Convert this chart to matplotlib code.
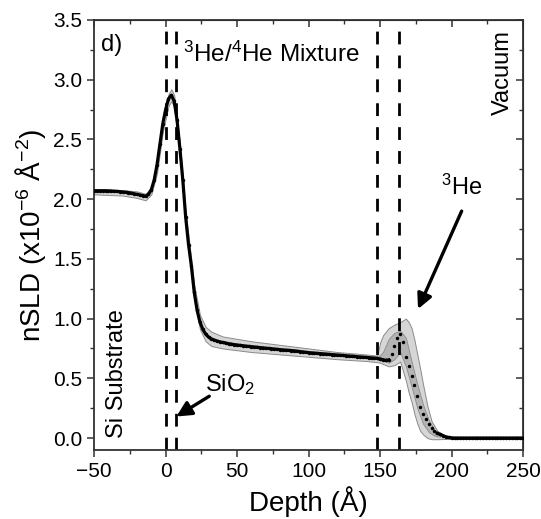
import matplotlib
matplotlib.use("Agg")
import matplotlib.pyplot as plt
import numpy as np

plt.rcParams['font.family'] = ['Liberation Sans', 'DejaVu Sans']
plt.rcParams['mathtext.fontset'] = 'custom'
plt.rcParams['mathtext.rm'] = 'Liberation Sans'
plt.rcParams['mathtext.it'] = 'Liberation Sans:italic'

# ---- data ----
depth = [-50, -48, -46, -44, -42, -40, -38, -36, -34, -32, -30, -28, -26, -24, -22, -20,
         -18, -16, -14, -12, -10, -8, -6, -4, -2, 0, 2, 4, 6, 8, 10, 12, 14, 16, 18, 20,
         22, 24, 26, 28, 30, 32, 34, 36, 38, 40, 42, 44, 46, 48, 50, 52, 54, 56, 58, 60,
         62, 64, 66, 68, 70, 72, 74, 76, 78, 80, 82, 84, 86, 88, 90, 92, 94, 96, 98, 100,
         102, 104, 106, 108, 110, 112, 114, 116, 118, 120, 122, 124, 126, 128, 130, 132,
         134, 136, 138, 140, 142, 144, 146, 148, 150, 152, 154, 156, 158, 160, 162, 164,
         166, 168, 170, 172, 174, 176, 178, 180, 182, 184, 186, 188, 190, 192, 194, 196,
         198, 200, 202, 204, 206, 208, 210, 212, 214, 216, 218, 220, 222, 224, 226, 228,
         230, 232, 234, 236, 238, 240, 242, 244, 246, 248, 250]
nsld = [2.070, 2.070, 2.070, 2.070, 2.070, 2.069, 2.068, 2.066, 2.065, 2.063, 2.060, 2.058,
        2.055, 2.050, 2.045, 2.040, 2.035, 2.030, 2.025, 2.040, 2.080, 2.160, 2.290, 2.460,
        2.630, 2.750, 2.840, 2.870, 2.820, 2.660, 2.420, 2.160, 1.850, 1.620, 1.440, 1.220,
        1.070, 0.970, 0.910, 0.870, 0.845, 0.830, 0.820, 0.812, 0.805, 0.800, 0.795, 0.790,
        0.786, 0.782, 0.779, 0.776, 0.773, 0.770, 0.767, 0.765, 0.762, 0.760, 0.757, 0.755,
        0.752, 0.750, 0.748, 0.745, 0.743, 0.740, 0.738, 0.736, 0.734, 0.732, 0.730, 0.727,
        0.724, 0.721, 0.718, 0.715, 0.713, 0.711, 0.709, 0.707, 0.705, 0.703, 0.701, 0.699,
        0.697, 0.695, 0.693, 0.691, 0.689, 0.687, 0.685, 0.683, 0.681, 0.679, 0.677, 0.675,
        0.673, 0.671, 0.669, 0.667, 0.662, 0.656, 0.650, 0.655, 0.700, 0.770, 0.840, 0.870,
        0.800, 0.680, 0.600, 0.520, 0.440, 0.350, 0.260, 0.200, 0.160, 0.120, 0.085, 0.060,
        0.040, 0.030, 0.020, 0.010, 0.005, 0.002, 0.0, 0.0, 0.0, 0.0, 0.0, 0.0, 0.0, 0.0,
        0.0, 0.0, 0.0, 0.0, 0.0, 0.0, 0.0, 0.0, 0.0, 0.0, 0.0, 0.0, 0.0, 0.0, 0.0, 0.0, 0.0]

band_x = [-50, -30, -20, -14, -10, -6, -2, 2, 4, 6, 10, 14, 20, 24, 28, 32, 40, 60, 80,
          100, 120, 140, 148, 150, 152, 156, 160, 164, 168, 170, 172, 174, 176, 178, 180,
          183, 186, 190, 195, 200, 250]
band_hi = [2.085, 2.075, 2.065, 2.045, 2.10, 2.33, 2.66, 2.88, 2.92, 2.87, 2.46, 1.90,
           1.28, 1.03, 0.93, 0.89, 0.85, 0.81, 0.78, 0.75, 0.72, 0.70, 0.69, 0.80, 0.86,
           0.92, 0.95, 0.97, 1.00, 0.97, 0.92, 0.82, 0.70, 0.58, 0.45, 0.27, 0.14, 0.06,
           0.02, 0.008, 0.008]
band_lo = [2.04, 2.03, 2.01, 1.99, 2.04, 2.22, 2.56, 2.78, 2.82, 2.77, 2.36, 1.80, 1.16,
           0.91, 0.81, 0.77, 0.75, 0.72, 0.70, 0.68, 0.66, 0.645, 0.635, 0.63, 0.62, 0.60,
           0.61, 0.64, 0.48, 0.38, 0.30, 0.20, 0.12, 0.06, 0.03, 0.0, -0.01, -0.01, -0.008,
           -0.008, -0.008]

inner_x = [148, 152, 156, 160, 164, 168, 172, 176, 180, 184, 188, 192]
inner_hi = [0.67, 0.72, 0.83, 0.88, 0.90, 0.84, 0.64, 0.45, 0.28, 0.15, 0.07, 0.03]
inner_lo = [0.655, 0.645, 0.63, 0.66, 0.72, 0.60, 0.43, 0.25, 0.12, 0.05, 0.02, 0.01]

interfaces = [0, 7, 148, 163]

xticks = [-50, 0, 50, 100, 150, 200, 250]
yticks = [0.0, 0.5, 1.0, 1.5, 2.0, 2.5, 3.0, 3.5]

# ---- figure ----
fig = plt.figure(figsize=(5.41, 5.19), dpi=100)
ax = fig.add_axes([0.174, 0.133, 0.793, 0.8285])

ax.fill_between(band_x, band_lo, band_hi, color='#d6d6d6', edgecolor='#8a8a8a',
                linewidth=0.7, zorder=1)
ax.fill_between(inner_x, inner_lo, inner_hi, color='#b4b4b4', edgecolor='#8a8a8a',
                linewidth=0.6, zorder=1.5)

d = np.array(depth)
v = np.array(nsld)
solid1 = d <= 156
solid2 = d >= 190
ax.plot(d[solid1], v[solid1], color='black', lw=2.3, zorder=3)
ax.plot(d[solid2], v[solid2], color='black', lw=2.3, zorder=3)
ax.plot(d, v, linestyle='none', marker='o', ms=2.5, mew=0, color='black', zorder=4)

for xi in interfaces:
    ax.axvline(xi, color='black', lw=2.0, linestyle=(0, (4.6, 4.0)), zorder=2)

ax.set_xlim(-50, 250)
ax.set_ylim(-0.1, 3.5)
ax.set_xticks(xticks)
ax.set_yticks(yticks)
ax.set_yticklabels(['%.1f' % t for t in yticks])
ax.set_xticks(np.arange(-25, 250, 50), minor=True)
ax.set_yticks(np.arange(0.25, 3.5, 0.5), minor=True)
ax.tick_params(axis='both', which='major', labelsize=15, length=5, width=1.1,
               direction='out', color='#333333')
ax.tick_params(axis='both', which='minor', length=3, width=1.0, direction='out',
               color='#333333')
for s in ax.spines.values():
    s.set_linewidth(1.3)
    s.set_color('#333333')

# mirrored inward ticks on top and right
axt = ax.secondary_xaxis('top')
axt.set_xticks(xticks)
axt.set_xticks(np.arange(-25, 250, 50), minor=True)
axt.tick_params(which='major', direction='in', length=5, width=1.1, labeltop=False,
                color='#333333')
axt.tick_params(which='minor', direction='in', length=3, width=1.0, color='#333333')
axt.set_xticklabels([])
axr = ax.secondary_yaxis('right')
axr.set_yticks(yticks)
axr.set_yticks(np.arange(0.25, 3.5, 0.5), minor=True)
axr.tick_params(which='major', direction='in', length=5, width=1.1, color='#333333')
axr.tick_params(which='minor', direction='in', length=3, width=1.0, color='#333333')
axr.set_yticklabels([])

ax.set_xlabel('Depth (Å)', fontsize=20, labelpad=4)
ax.set_ylabel(r'nSLD (x10$^{\mathregular{-6}}$ Å$^{\mathregular{-2}}$)', fontsize=20,
              labelpad=4)

ax.text(-45, 3.29, 'd)', fontsize=17, ha='left', va='center')
ax.text(12, 3.21, r'$^{\mathregular{3}}$He/$^{\mathregular{4}}$He Mixture', fontsize=17.5,
        ha='left', va='center')
ax.text(236, 3.06, 'Vacuum', fontsize=17, rotation=90, ha='center', va='center')
ax.text(-34, 0.0, 'Si Substrate', fontsize=17, rotation=90, ha='center', va='bottom')
ax.text(45, 0.45, r'SiO$_{\mathregular{2}}$', fontsize=17, ha='center', va='center')
ax.text(207, 2.10, r'$^{\mathregular{3}}$He', fontsize=17, ha='center', va='center')

arrow_kw = dict(arrowstyle='-|>,head_length=0.9,head_width=0.45', color='black', lw=2.4,
                shrinkA=0, shrinkB=0)
ax.annotate('', xy=(7.5, 0.18), xytext=(30.5, 0.35), arrowprops=arrow_kw)
ax.annotate('', xy=(176.5, 1.08), xytext=(207, 1.90), arrowprops=arrow_kw)

fig.savefig('out.png', dpi=100)
